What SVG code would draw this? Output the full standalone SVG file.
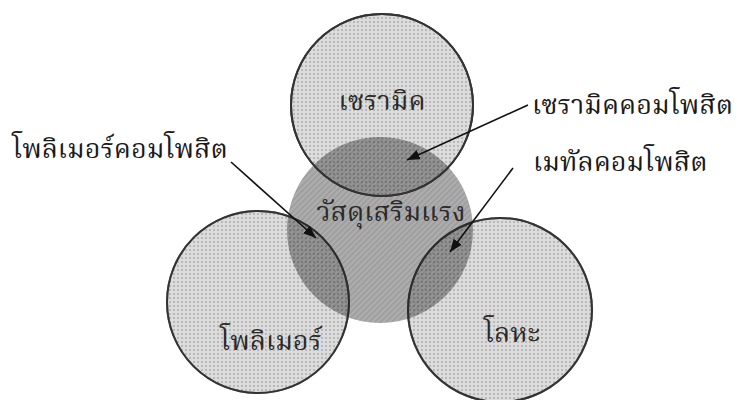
<svg xmlns="http://www.w3.org/2000/svg" width="745" height="400" viewBox="0 0 745 400">
<style>
.lbl{font-family:"Noto Serif Thai","Norasi","Kinnari","Noto Sans Thai Looped","Noto Sans Thai","DejaVu Sans",serif;font-size:27px;fill:#1a1a1a}
.in{font-family:"Noto Serif Thai","Norasi","Kinnari","Noto Sans Thai Looped","Noto Sans Thai","DejaVu Sans",serif;font-size:27px;fill:#2a2a2a;text-anchor:middle}
.outer{fill:url(#dots);stroke:#333;stroke-width:2}
.ring{fill:none;stroke:#333;stroke-width:2}
.conn{stroke:#111;stroke-width:1.6;fill:none;marker-end:url(#ah)}
</style>
<defs>
<pattern id="dots" width="4" height="4" patternUnits="userSpaceOnUse">
<rect width="4" height="4" fill="#dcdcdc"/>
<rect x="1" y="1" width="2" height="2" fill="#b8b8b8"/>
</pattern>
<pattern id="hatch" width="4" height="4" patternUnits="userSpaceOnUse" patternTransform="rotate(45)">
<rect width="4" height="4" fill="#000" fill-opacity="0.32"/>
<rect width="1.5" height="4" fill="#000" fill-opacity="0.10"/>
</pattern>
<marker id="ah" viewBox="0 0 10 10" refX="10" refY="5" markerWidth="8" markerHeight="8" markerUnits="strokeWidth" orient="auto">
<path d="M0,1 L10,5 L0,9 Z" fill="#111"/>
</marker>
</defs>
<rect width="745" height="400" fill="#fff"/>
<g id="ceramic"><circle class="outer" cx="382" cy="105" r="91"/></g>
<g id="polymer"><circle class="outer" cx="258" cy="302" r="91"/></g>
<g id="metal"><circle class="outer" cx="500" cy="310" r="92"/></g>
<g id="reinforcement"><circle cx="380" cy="230" r="93" fill="url(#hatch)"/></g>
<g id="outlines">
<circle class="ring" cx="382" cy="105" r="91"/>
<circle class="ring" cx="258" cy="302" r="91" stroke-opacity="0.6"/>
<circle class="ring" cx="500" cy="310" r="92" stroke-opacity="0.6"/>
</g>
<g id="texts">
<text class="in" x="382" y="110">เซรามิค</text>
<text class="in" x="391" y="221">วัสดุเสริมแรง</text>
<text class="in" x="271" y="350">โพลิเมอร์</text>
<text class="in" x="512" y="342">โลหะ</text>
</g>
<g id="label-ceramic-composite"><text class="lbl" x="532" y="114">เซรามิคคอมโพสิต</text></g>
<g id="label-metal-composite"><text class="lbl" x="533" y="171">เมทัลคอมโพสิต</text></g>
<g id="label-polymer-composite"><text class="lbl" x="12" y="158">โพลิเมอร์คอมโพสิต</text></g>
<g id="connectors">
<line class="conn" x1="528" y1="105" x2="407" y2="160"/>
<line class="conn" x1="231" y1="162" x2="316" y2="238"/>
<line class="conn" x1="513" y1="168" x2="450" y2="252"/>
</g>
</svg>
